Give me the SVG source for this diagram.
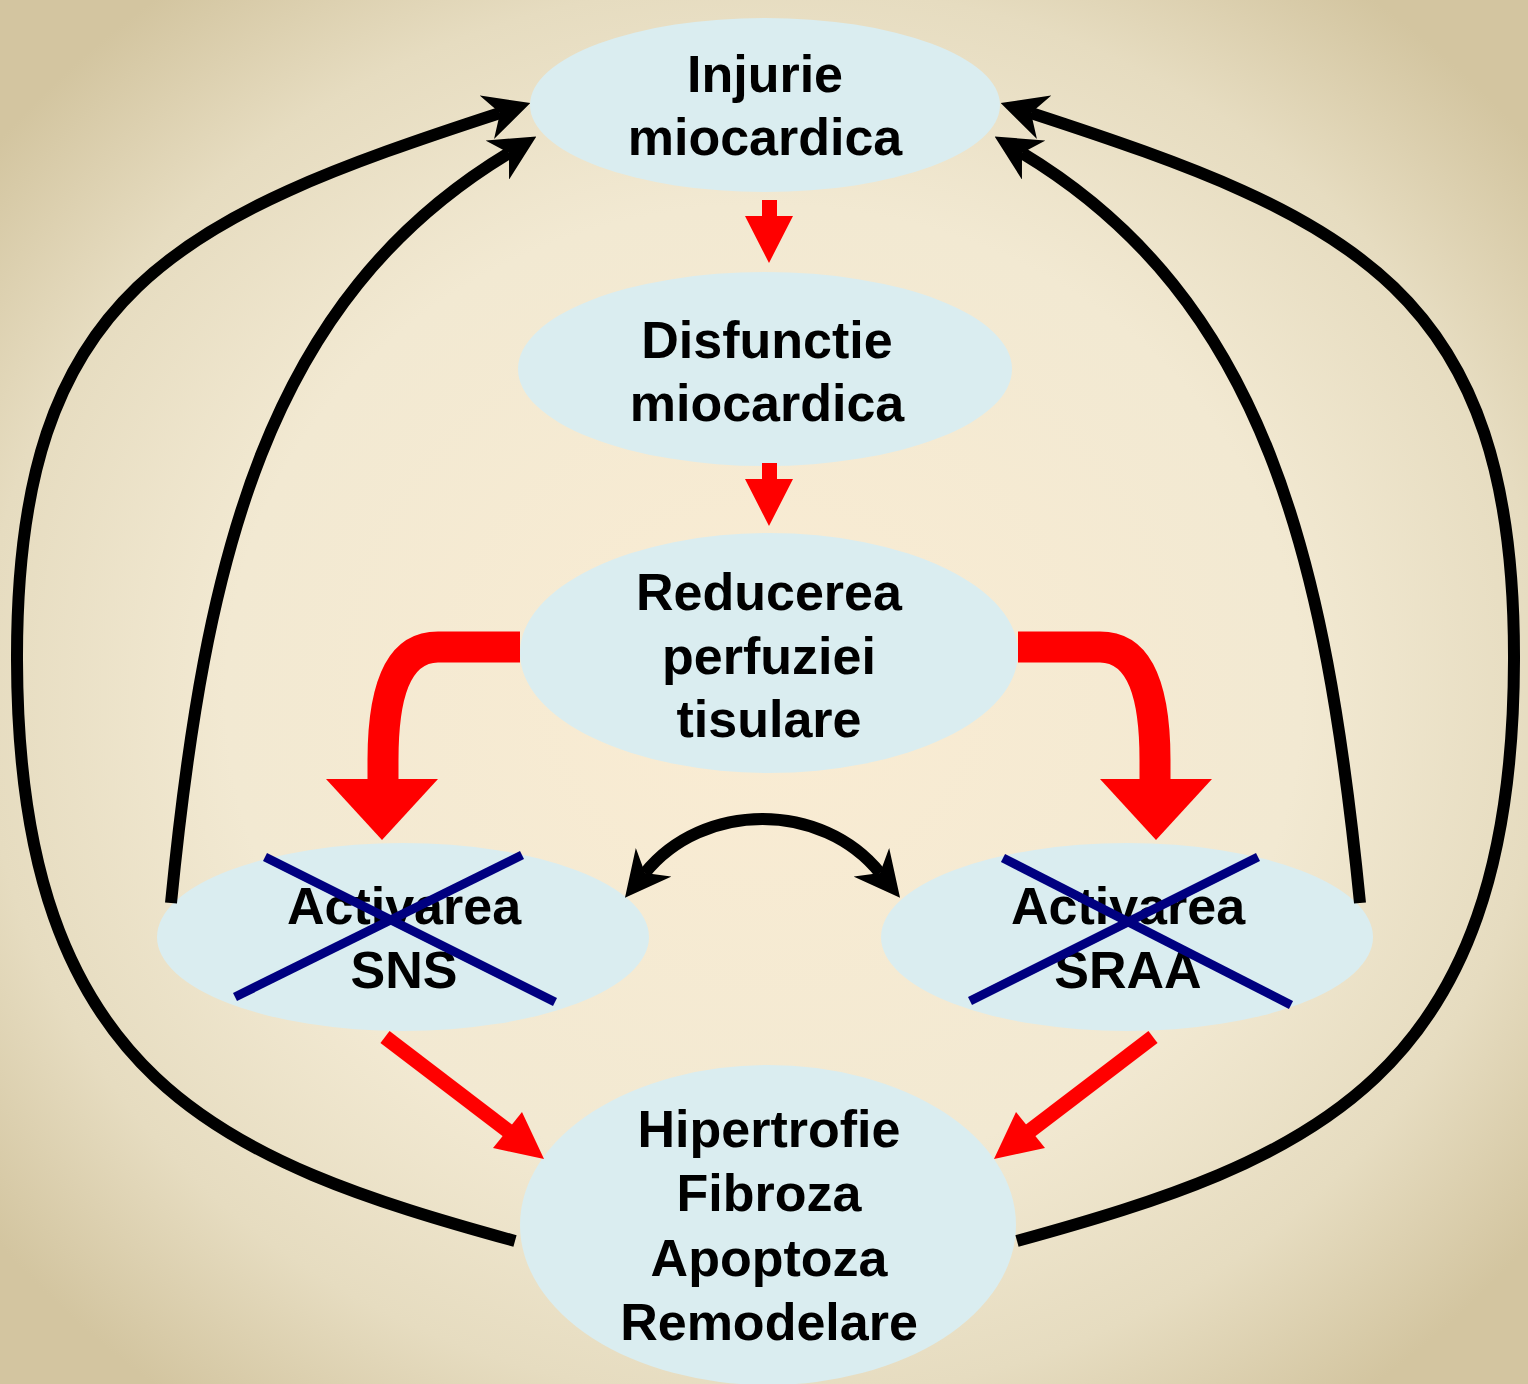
<svg xmlns="http://www.w3.org/2000/svg" width="1528" height="1384" viewBox="0 0 1528 1384">
<defs>
<radialGradient id="bg" cx="0.5" cy="0.5" r="0.64">
<stop offset="0" stop-color="#faecd3"/>
<stop offset="0.55" stop-color="#f2e9d2"/>
<stop offset="0.8" stop-color="#e6dcc0"/>
<stop offset="1" stop-color="#d3c5a0"/>
</radialGradient>
<marker id="ah" viewBox="0 0 10 10" refX="3" refY="5" markerWidth="3.8" markerHeight="3.8" orient="auto-start-reverse" markerUnits="strokeWidth">
<path d="M0,0 L10,5 L0,10 L3,5 Z" fill="#000"/>
</marker>
</defs>
<style>
.node{fill:#daedf0}
.t{font-family:"Liberation Sans",Arial,sans-serif;font-weight:bold;font-size:52px;fill:#000;text-anchor:middle}
.blk{fill:none;stroke:#000;stroke-width:12}
.red{fill:#ff0000}
.rs{fill:none;stroke:#ff0000}
.x{stroke:#000080;stroke-width:9;stroke-linecap:butt}
</style>
<rect width="1528" height="1384" fill="url(#bg)"/>

<g id="n1"><ellipse class="node" cx="765" cy="105" rx="235" ry="87"/>
<text class="t" x="765" y="92">Injurie</text><text class="t" x="765" y="155">miocardica</text></g>
<g id="n2"><ellipse class="node" cx="765" cy="369" rx="247" ry="97"/>
<text class="t" x="767" y="358">Disfunctie</text><text class="t" x="767" y="421">miocardica</text></g>
<g id="n3"><ellipse class="node" cx="769" cy="653" rx="249" ry="120"/>
<text class="t" x="769" y="610">Reducerea</text><text class="t" x="769" y="674">perfuziei</text><text class="t" x="769" y="737">tisulare</text></g>
<g id="n4"><ellipse class="node" cx="403" cy="937" rx="246" ry="94"/>
<text class="t" x="404" y="924">Activarea</text><text class="t" x="404" y="988">SNS</text>
<line class="x" x1="265" y1="857" x2="555" y2="1002"/><line class="x" x1="235" y1="997" x2="522" y2="855"/></g>
<g id="n5"><ellipse class="node" cx="1127" cy="937" rx="246" ry="94"/>
<text class="t" x="1128" y="924">Activarea</text><text class="t" x="1128" y="988">SRAA</text>
<line class="x" x1="1003" y1="858" x2="1291" y2="1005"/><line class="x" x1="970" y1="1001" x2="1258" y2="857"/></g>
<g id="n6"><ellipse class="node" cx="768" cy="1225" rx="248" ry="160"/>
<text class="t" x="769" y="1147">Hipertrofie</text><text class="t" x="769" y="1211">Fibroza</text><text class="t" x="769" y="1276">Apoptoza</text><text class="t" x="769" y="1340">Remodelare</text></g>

<g id="connectors">
<polygon class="red" points="762,200 777,200 777,216 793,216 769,263 745,216 762,216"/>
<polygon class="red" points="762,463 777,463 777,479 793,479 769,526 745,479 762,479"/>
<path class="rs" stroke-width="31" d="M520,647 L438,647 C398,647 383,690 383,760 L383,785"/>
<polygon class="red" points="326,779 438,779 382,840"/>
<path class="rs" stroke-width="31" d="M1018,647 L1100,647 C1140,647 1155,690 1155,760 L1155,785"/>
<polygon class="red" points="1100,779 1212,779 1156,840"/>
<line class="rs" stroke-width="15" x1="385" y1="1037" x2="520" y2="1140"/>
<polygon class="red" points="522,1112 544,1159 493,1148"/>
<line class="rs" stroke-width="15" x1="1153" y1="1037" x2="1018" y2="1140"/>
<polygon class="red" points="1016,1112 994,1159 1045,1148"/>
<path class="blk" marker-end="url(#ah)" d="M515,1241 C220,1160 18,1080 17,660 C16,290 178,218 500,113"/>
<path class="blk" marker-end="url(#ah)" d="M171,903 C205,560 265,300 509,153"/>
<path class="blk" marker-end="url(#ah)" d="M1017,1241 C1311,1160 1513,1080 1514,660 C1515,290 1353,218 1031,113"/>
<path class="blk" marker-end="url(#ah)" d="M1360,903 C1326,560 1266,300 1022,153"/>
<path class="blk" marker-start="url(#ah)" marker-end="url(#ah)" d="M645,873 C703,801 822,801 880,873"/>
</g>
</svg>
